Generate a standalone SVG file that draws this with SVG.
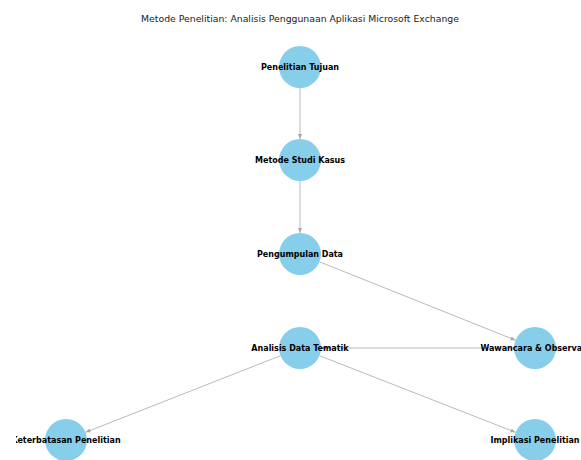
<svg xmlns="http://www.w3.org/2000/svg" width="581" height="460" viewBox="0 0 581 460">
<style>
.node{fill:#87CEEB;}
.lbl{font-family:"DejaVu Sans",sans-serif;font-size:8px;font-weight:bold;fill:#000;text-anchor:middle;dominant-baseline:central;}
.title{font-family:"DejaVu Sans",sans-serif;font-size:9.3px;fill:#222;text-anchor:middle;}
.edge{stroke:#a8a8a8;stroke-width:0.8;fill:none;marker-end:url(#arr);}
</style>
<defs>
<marker id="arr" viewBox="0 0 10 10" refX="10" refY="5" markerWidth="5" markerHeight="5" orient="auto" markerUnits="userSpaceOnUse">
<path d="M0,1 L10,5 L0,9 z" fill="#a8a8a8"/>
</marker>
<clipPath id="ax"><rect x="16" y="0" width="565" height="460"/></clipPath>
</defs>
<rect width="581" height="460" fill="#fff"/>
<text class="title" x="300" y="22">Metode Penelitian: Analisis Penggunaan Aplikasi Microsoft Exchange</text>
<g id="connectors">
<line class="edge" x1="300" y1="88" x2="300" y2="139"/>
<line class="edge" x1="300" y1="181" x2="300" y2="233"/>
<line class="edge" x1="319.5" y1="261.8" x2="515.5" y2="340.2"/>
<line class="edge" x1="514" y1="348" x2="321" y2="348"/>
<line class="edge" x1="280.5" y1="355.7" x2="85.5" y2="432.3"/>
<line class="edge" x1="319.5" y1="355.7" x2="515.5" y2="432.3"/>
</g>
<g clip-path="url(#ax)">
<g id="n-tujuan"><circle class="node" cx="300" cy="67" r="21"/><text class="lbl" x="300" y="67">Penelitian Tujuan</text></g>
<g id="n-metode"><circle class="node" cx="300" cy="160" r="21"/><text class="lbl" x="300" y="160">Metode Studi Kasus</text></g>
<g id="n-pengumpulan"><circle class="node" cx="300" cy="254" r="21"/><text class="lbl" x="300" y="254">Pengumpulan Data</text></g>
<g id="n-analisis"><circle class="node" cx="300" cy="348" r="21"/><text class="lbl" x="300" y="348">Analisis Data Tematik</text></g>
<g id="n-wawancara"><circle class="node" cx="535" cy="348" r="21"/><text class="lbl" x="535" y="348">Wawancara &amp; Observasi</text></g>
<g id="n-keterbatasan"><circle class="node" cx="66" cy="440" r="21"/><text class="lbl" x="66" y="440">Keterbatasan Penelitian</text></g>
<g id="n-implikasi"><circle class="node" cx="535" cy="440" r="21"/><text class="lbl" x="535" y="440">Implikasi Penelitian</text></g>
</g>
</svg>
